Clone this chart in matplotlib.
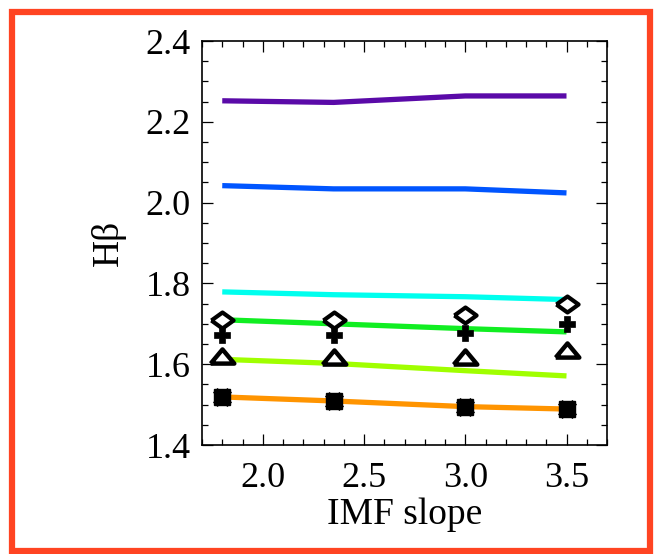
import matplotlib
matplotlib.use("Agg")
import matplotlib.pyplot as plt
from matplotlib.patches import Rectangle
from matplotlib.ticker import MultipleLocator

plt.rcParams['font.family'] = ['Liberation Serif', 'DejaVu Serif']

imf_slope = [1.8, 2.35, 3.0, 3.5]

line_purple = [2.252, 2.248, 2.264, 2.264]
line_blue = [2.042, 2.034, 2.034, 2.024]
line_cyan = [1.779, 1.772, 1.767, 1.760]
line_green = [1.710, 1.700, 1.688, 1.680]
line_lime = [1.612, 1.602, 1.584, 1.571]
line_orange = [1.519, 1.509, 1.495, 1.489]

pts_diamond = [1.710, 1.710, 1.723, 1.748]
pts_plus = [1.672, 1.672, 1.677, 1.699]
pts_triangle = [1.620, 1.617, 1.618, 1.635]
pts_square = [1.519, 1.509, 1.494, 1.488]

fig = plt.figure(figsize=(6.57, 5.54), dpi=100)
ax = fig.add_axes([202/657, 1-445/554, 405/657, 404/554])

lw = 3.8
ax.plot(imf_slope, line_purple, color='#5a0aa8', lw=lw, solid_capstyle='butt')
ax.plot(imf_slope, line_blue, color='#0055ff', lw=lw, solid_capstyle='butt')
ax.plot(imf_slope, line_cyan, color='#00ffee', lw=lw, solid_capstyle='butt')
ax.plot(imf_slope, line_green, color='#11ee22', lw=lw, solid_capstyle='butt')
ax.plot(imf_slope, line_lime, color='#a0ff00', lw=lw, solid_capstyle='butt')
ax.plot(imf_slope, line_orange, color='#ff9400', lw=lw, solid_capstyle='butt')

wide_diamond = [(-1, 0), (0, 0.72), (1, 0), (0, -0.72), (-1, 0)]
wide_triangle = [(-1, -0.6), (0, 0.6), (1, -0.6), (-1, -0.6)]
ax.plot(imf_slope, pts_diamond, ls='none', marker=wide_diamond, ms=16, mfc='white', mec='black', mew=3)
ax.plot(imf_slope, pts_plus, ls='none', marker='P', ms=11.5, mfc='black', mec='black', mew=0.5)
ax.plot(imf_slope, pts_triangle, ls='none', marker=wide_triangle, ms=17, mfc='white', mec='black', mew=3.2)
ax.plot(imf_slope, pts_square, ls='none', marker='s', ms=11, mfc='black', mec='black', mew=1)
ax.plot(imf_slope, pts_square, ls='none', marker='X', ms=13.5, mfc='black', mec='black', mew=0.5)

ax.set_xlim(1.7, 3.7)
ax.set_ylim(1.4, 2.4)
ax.xaxis.set_minor_locator(MultipleLocator(0.1))
ax.yaxis.set_minor_locator(MultipleLocator(0.05))
ax.set_xticks([2.0, 2.5, 3.0, 3.5])
ax.set_xticklabels(['2.0', '2.5', '3.0', '3.5'])
ax.set_yticks([1.4, 1.6, 1.8, 2.0, 2.2, 2.4])
ax.set_yticklabels(['1.4', '1.6', '1.8', '2.0', '2.2', '2.4'])
ax.tick_params(which='both', direction='in', top=True, right=True, labelsize=26, width=0.9)
ax.tick_params(axis='x', which='major', length=8, pad=12)
ax.tick_params(axis='y', which='major', length=8, pad=8)
ax.tick_params(which='minor', length=4)
for s in ax.spines.values():
    s.set_linewidth(1.2)

ax.set_xlabel('IMF slope', fontsize=27, labelpad=2)
ax.set_ylabel('H\u03b2', fontsize=27, labelpad=14)

fig.patches.append(Rectangle((12/657, 1-551/554), 638/657, 539/554, transform=fig.transFigure,
                             fill=False, edgecolor='#ff4422', lw=4.5))

fig.savefig('out.png', dpi=100)
